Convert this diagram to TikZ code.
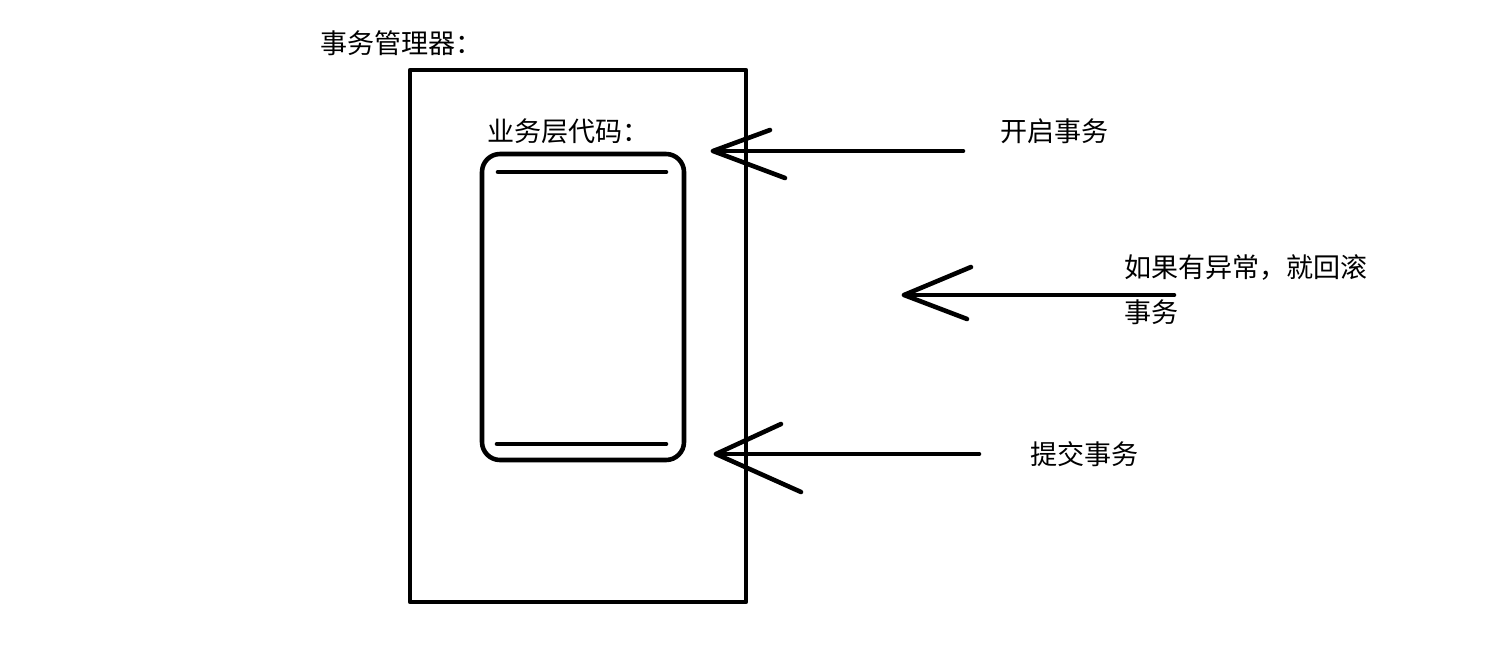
\documentclass[tikz,border=0pt]{standalone}
\usepackage{fontspec}
\newfontfamily\cjk{Noto Sans CJK SC}
\usetikzlibrary{calc}

\begin{document}
\begin{tikzpicture}[x=0.02cm,y=-0.02cm,
  stroke/.style={line width=2.6pt,line cap=round,line join=round},
  lbl/.style={anchor=west,inner sep=0pt,font=\cjk\fontsize{15.4pt}{18pt}\selectfont}]
\useasboundingbox (0,0) rectangle (1487,656);
% transaction manager and service code
\node[lbl] (mgrlabel) at (320,43) {事务管理器：};
\draw[stroke] (410,70) rectangle (746,602);
\node[lbl] (svclabel) at (487,131) {业务层代码：};
\draw[stroke,rounded corners=0.36cm] (482,154) rectangle (684,460);
\coordinate (topA) at (498,172);  \coordinate (topB) at (666,172);
\coordinate (botA) at (497,444);  \coordinate (botB) at (666,444);
\draw[stroke] (topA) -- (topB);
\draw[stroke] (botA) -- (botB);
% arrows: tail/tip/upper arm/lower arm/label position/text
\foreach \n/\tx/\ty/\hx/\hy/\ux/\uy/\lx/\ly/\px/\py/\txt in {
  open/963/151/713/151/770/130/785/178/1000/131/{开启事务},
  roll/1174/295/904/295/971/267/967/319/1124/268/{如果有异常，就回滚},
  commit/979/454/716/454/781/424/801/492/1030/454/{提交事务}} {
  \coordinate (\n tail) at (\tx,\ty);
  \coordinate (\n tip) at (\hx,\hy);
  \coordinate (\n up) at (\ux,\uy);
  \coordinate (\n lo) at (\lx,\ly);
  \draw[stroke] (\n tail) -- (\n tip);
  \draw[stroke] (\n up) -- (\n tip) -- (\n lo);
  \node[lbl] (\n text) at (\px,\py) {\txt};
}
\node[lbl] (rolltext2) at (1124,312) {事务};
\end{tikzpicture}
\end{document}
